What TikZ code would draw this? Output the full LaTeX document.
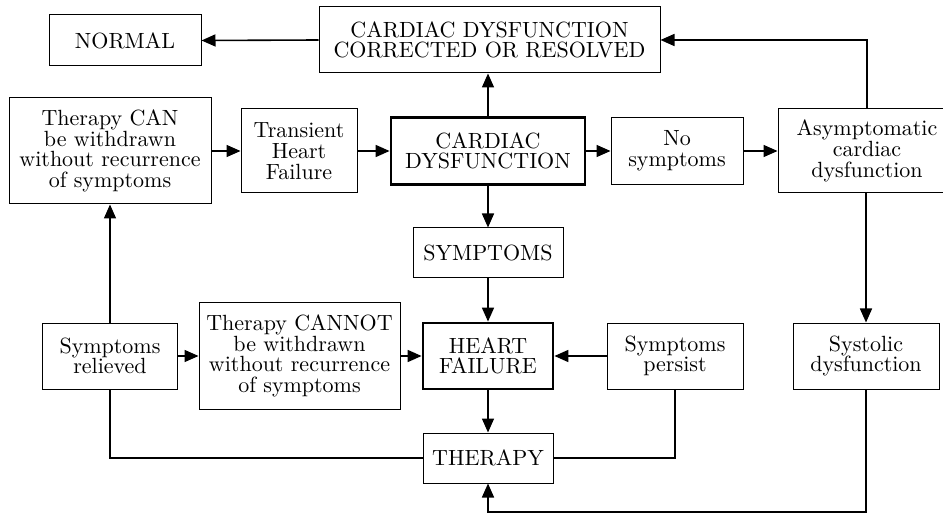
\documentclass[tikz,border=0pt]{standalone}
\usepackage{fontspec}
\setmainfont{lmroman10-regular.otf}
\usetikzlibrary{arrows.meta}
\begin{document}
\begin{tikzpicture}[x=1pt,y=-1pt,
  box/.style={draw,line width=1pt,align=center,inner sep=0pt,
    font=\fontsize{22}{20.7}\selectfont},
  thickbox/.style={box,line width=2.8pt},
  arr/.style={line width=1.6pt,-{Triangle[length=14pt,width=12pt]}},
  ln/.style={line width=1.6pt}]
\clip (0,0) rectangle (943,513);
\useasboundingbox (0,0) rectangle (943,513);
\node[box,minimum width=152pt,minimum height=51pt] (normal) at (125,40.5) {NORMAL};
\node[box,minimum width=341pt,minimum height=66pt] (corr) at (489.5,40) {CARDIAC DYSFUNCTION\\CORRECTED OR RESOLVED};
\node[box,minimum width=202pt,minimum height=106pt] (can) at (110,151) {Therapy CAN\\be withdrawn\\without recurrence\\of symptoms};
\node[box,minimum width=116pt,minimum height=84pt] (trans) at (299,151) {Transient\\Heart\\Failure};
\node[thickbox,minimum width=194pt,minimum height=67pt] (cd) at (488,151) {CARDIAC\\DYSFUNCTION};
\node[box,minimum width=132pt,minimum height=67pt] (nosym) at (677,151) {No\\symptoms};
\node[box,minimum width=178pt,minimum height=84pt] (asym) at (867,151) {Asymptomatic\\cardiac\\dysfunction};
\node[box,minimum width=150pt,minimum height=50pt] (sym) at (488,253) {SYMPTOMS};
\node[box,minimum width=135pt,minimum height=66pt] (rel) at (110,356) {Symptoms\\relieved};
\node[box,minimum width=201pt,minimum height=106pt] (cannot) at (299.5,356) {Therapy CANNOT\\be withdrawn\\without recurrence\\of symptoms};
\node[thickbox,minimum width=130pt,minimum height=66pt] (hf) at (488,356) {HEART\\FAILURE};
\node[box,minimum width=136pt,minimum height=66pt] (persist) at (675,356) {Symptoms\\persist};
\node[box,minimum width=146pt,minimum height=66pt] (sys) at (866,356) {Systolic\\dysfunction};
\node[box,minimum width=130pt,minimum height=50pt] (ther) at (488,458) {THERAPY};
\coordinate (bot) at (866,512);
\draw[arr] (corr.west) -- (normal.east);
\draw[arr] (can.east) -- (trans.west);
\draw[arr] (trans.east) -- (cd.west);
\draw[arr] (cd.east) -- (nosym.west);
\draw[arr] (nosym.east) -- (asym.west);
\draw[arr] (cd.north) -- (cd.north |- corr.south);
\draw[arr] (asym.north) |- (corr.east);
\draw[arr] (cd.south) -- (sym.north);
\draw[arr] (sym.south) -- (hf.north);
\draw[arr] (hf.south) -- (ther.north);
\draw[arr] (rel.east) -- (cannot.west);
\draw[arr] (cannot.east) -- (hf.west);
\draw[arr] (persist.west) -- (hf.east);
\draw[arr] (rel.north) -- (can.south);
\draw[ln] (rel.south) |- (ther.west);
\draw[ln] (persist.south) |- (ther.east);
\draw[arr] (sys.north |- asym.south) -- (sys.north);
\draw[arr] (sys.south) -- (bot) -| (ther.south);
\end{tikzpicture}
\end{document}
